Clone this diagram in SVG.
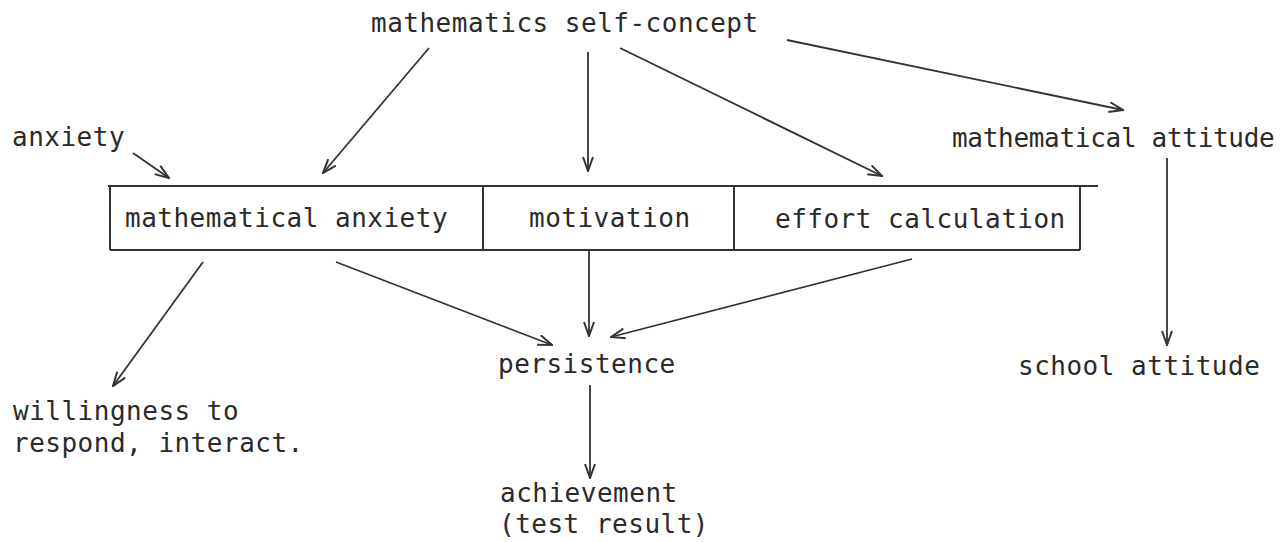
<svg xmlns="http://www.w3.org/2000/svg" width="1280" height="542" viewBox="0 0 1280 542">
<defs>
<style>
text{font-family:"DejaVu Sans Mono","Liberation Mono",monospace;font-size:26px;letter-spacing:0.5px;fill:#2a2a2a}
.ln{stroke:#333;stroke-width:2;fill:none}
.ar{stroke:#333;stroke-width:1.8;fill:none;marker-end:url(#ah)}
</style>
<marker id="ah" viewBox="0 0 16 12" refX="15" refY="6" markerWidth="16" markerHeight="12" orient="auto" markerUnits="userSpaceOnUse">
<path d="M1,1 L15,6 L1,11" fill="none" stroke="#333" stroke-width="2"/>
</marker>
</defs>
<rect width="1280" height="542" fill="#fff"/>
<g id="box">
<line class="ln" x1="108" y1="186" x2="1098" y2="186"/>
<line class="ln" x1="110" y1="250" x2="1080" y2="250"/>
<line class="ln" x1="110" y1="186" x2="110" y2="250"/>
<line class="ln" x1="1080" y1="186" x2="1080" y2="250"/>
<line class="ln" x1="483" y1="186" x2="483" y2="250"/>
<line class="ln" x1="734" y1="186" x2="734" y2="250"/>
</g>
<g id="n-selfconcept"><text x="371" y="32">mathematics self-concept</text></g>
<g id="n-anxiety"><text x="12" y="146">anxiety</text></g>
<g id="n-mathanxiety"><text x="125" y="227">mathematical anxiety</text></g>
<g id="n-motivation"><text x="529" y="227">motivation</text></g>
<g id="n-effort"><text x="775" y="228">effort calculation</text></g>
<g id="n-mathattitude"><text x="952" y="147" style="letter-spacing:-0.3px">mathematical attitude</text></g>
<g id="n-persistence"><text x="498" y="373">persistence</text></g>
<g id="n-schoolattitude"><text x="1018" y="375">school attitude</text></g>
<g id="n-willingness"><text x="13" y="420">willingness to</text><text x="13" y="452">respond, interact.</text></g>
<g id="n-achievement"><text x="500" y="502">achievement</text><text x="499" y="533">(test result)</text></g>
<g id="connectors">
<line class="ar" x1="429" y1="48" x2="323" y2="173"/>
<line class="ar" x1="588" y1="52" x2="588" y2="171"/>
<line class="ar" x1="620" y1="48" x2="882" y2="176"/>
<line class="ar" x1="787" y1="40" x2="1123" y2="110"/>
<line class="ar" x1="133" y1="153" x2="169" y2="178"/>
<line class="ar" x1="1167" y1="158" x2="1167" y2="345"/>
<line class="ar" x1="203" y1="262" x2="113" y2="386"/>
<line class="ar" x1="336" y1="262" x2="552" y2="345"/>
<line class="ar" x1="589" y1="251" x2="589" y2="336"/>
<line class="ar" x1="912" y1="259" x2="611" y2="337"/>
<line class="ar" x1="590" y1="385" x2="590" y2="478"/>
</g>
</svg>
